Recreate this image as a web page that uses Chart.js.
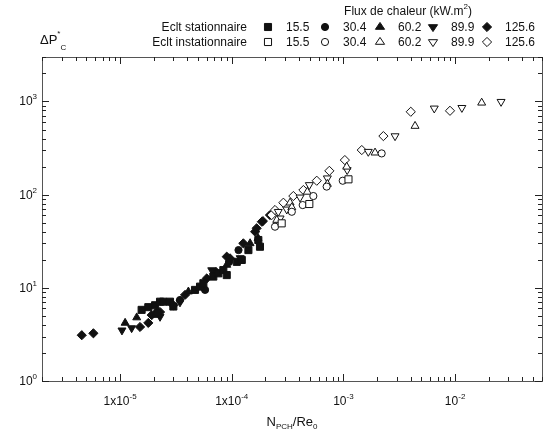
<!DOCTYPE html>
<html>
<head>
<meta charset="utf-8">
<script src="https://cdn.jsdelivr.net/npm/chart.js@4.4.0/dist/chart.umd.min.js"></script>
<style>
  html, body { margin: 0; padding: 0; background: #fff; }
  #wrap { position: relative; width: 554px; height: 434px; }
</style>
</head>
<body>
<div id="wrap"><canvas id="chart" width="554" height="434"></canvas></div>
<script>
// Heat flux classes (kW.m2)
const FLUX_LABELS = ['15.5', '30.4', '60.2', '89.9', '125.6'];
const ROW_LABELS = ['Eclt stationnaire', 'Eclt instationnaire'];

// Axis ticks
const X_TICKS = [1e-5, 1e-4, 1e-3, 1e-2];
const X_TICK_BASE = ['1x10', '1x10', '10', '10'];
const X_TICK_EXP = ['-5', '-4', '-3', '-2'];
const Y_TICKS = [1, 10, 100, 1000];
const Y_TICK_EXP = ['0', '1', '2', '3'];

// Steady flow (filled markers): [N_PCH/Re_0, dP*_C]
const STAT_15_5 = [[1.56e-5, 5.8], [1.79e-5, 6.2], [2.06e-5, 6.5], [2.28e-5, 7.1], [2.44e-5, 7.1],
  [2.8e-5, 7.1], [3.0e-5, 6.3], [4.69e-5, 9.5], [5.2e-5, 10.3], [5.57e-5, 11.2], [6.84e-5, 13.2],
  [7.59e-5, 14.3], [8.41e-5, 15.5], [9.02e-5, 13.7], [1.11e-4, 19.0], [1.23e-4, 19.9],
  [1.41e-4, 25.4], [1.73e-4, 32.6], [1.79e-4, 27.6]];
const STAT_30_4 = [[2.14e-5, 5.5], [3.44e-5, 7.4], [5.77e-5, 9.5], [9.46e-5, 18.9], [1.15e-4, 25.4]];
const STAT_60_2 = [[1.11e-5, 4.2], [1.41e-5, 4.8], [2.06e-5, 5.1], [4.09e-5, 9.1], [9.02e-5, 17.6],
  [1.46e-4, 30.0], [1.72e-4, 34.2]];
const STAT_89_9 = [[1.04e-5, 3.5], [1.27e-5, 3.7], [2.28e-5, 4.9], [3.44e-5, 7.0], [6.62e-5, 15.5],
  [1.19e-4, 20.9]];
const STAT_125_6 = [[4.54e-6, 3.1], [5.77e-6, 3.25], [1.51e-5, 3.8], [1.79e-5, 4.2], [1.92e-5, 5.1],
  [2.28e-5, 5.5], [3.0e-5, 6.5], [3.82e-5, 8.4], [5.97e-5, 12.6], [7.23e-5, 14.8], [9.02e-5, 21.6],
  [9.66e-5, 20.7], [1.27e-4, 30.0], [1.62e-4, 40.0], [1.67e-4, 43.5], [1.86e-4, 51.2],
  [1.90e-4, 52], [2.20e-4, 60.4]];

// Unsteady flow (open markers)
const UNST_15_5 = [[2.80e-4, 49.2], [4.95e-4, 79.3], [1.11e-3, 146]];
const UNST_30_4 = [[2.44e-4, 45.3], [3.45e-4, 65.5], [4.32e-4, 77.3], [5.38e-4, 96.6], [7.08e-4, 122],
  [9.86e-4, 141], [2.20e-3, 277]];
const UNST_60_2 = [[2.53e-4, 53.4], [3.33e-4, 81.9], [3.45e-4, 73], [4.75e-4, 107], [7.18e-4, 130],
  [1.07e-3, 199], [1.92e-3, 282], [4.38e-3, 545], [1.73e-2, 968]];
const UNST_89_9 = [[2.61e-4, 65.5], [2.71e-4, 55.7], [3.11e-4, 69.5], [4.09e-4, 93.5], [4.95e-4, 127],
  [7.18e-4, 150], [1.08e-3, 184], [1.67e-3, 289], [2.90e-3, 425], [6.51e-3, 843], [1.15e-2, 855],
  [2.58e-2, 993]];
const UNST_125_6 = [[2.28e-4, 60.4], [2.44e-4, 68.4], [2.90e-4, 81.9], [3.56e-4, 96.6], [4.38e-4, 112],
  [5.77e-4, 141], [7.48e-4, 180], [1.03e-3, 235], [1.46e-3, 301], [2.28e-3, 425], [4.01e-3, 775],
  [9.0e-3, 794]];

const FONT = '"Liberation Sans", Arial, sans-serif';
const INK = '#111';

// marker look per flux class
const MARKERS = [
  { style: 'rect', rotation: 0, radius: 5 },
  { style: 'circle', rotation: 0, radius: 3.6 },
  { style: 'triangle', rotation: 0, radius: 4.6 },
  { style: 'triangle', rotation: 180, radius: 4.6 },
  { style: 'rectRot', rotation: 0, radius: 4.6 }
];

function toPoints(arr) {
  return arr.map(([x, y]) => ({ x, y }));
}

function makeDataset(label, arr, i, filled) {
  const m = MARKERS[i];
  return {
    label: label,
    data: toPoints(arr),
    pointStyle: m.style,
    rotation: m.rotation,
    pointRadius: m.radius,
    borderWidth: 1,
    borderColor: INK,
    backgroundColor: filled ? INK : '#fff',
    showLine: false
  };
}

const steady = [STAT_15_5, STAT_30_4, STAT_60_2, STAT_89_9, STAT_125_6];
const unsteady = [UNST_15_5, UNST_30_4, UNST_60_2, UNST_89_9, UNST_125_6];

const datasets = [];
unsteady.forEach((arr, i) => datasets.push(makeDataset(ROW_LABELS[1] + ' ' + FLUX_LABELS[i], arr, i, false)));
steady.forEach((arr, i) => datasets.push(makeDataset(ROW_LABELS[0] + ' ' + FLUX_LABELS[i], arr, i, true)));

// text with a small raised (or lowered) part
function drawParts(ctx, parts, x, y, align) {
  let total = 0;
  parts.forEach(p => {
    ctx.font = p.size + 'px ' + FONT;
    p.w = ctx.measureText(p.text).width;
    total += p.w;
  });
  let cx = align === 'center' ? x - total / 2 : align === 'right' ? x - total : x;
  ctx.textAlign = 'left';
  ctx.textBaseline = 'alphabetic';
  parts.forEach(p => {
    ctx.font = p.size + 'px ' + FONT;
    ctx.fillText(p.text, cx, y + (p.dy || 0));
    cx += p.w;
  });
}

function drawMarker(ctx, i, filled, x, y) {
  const m = MARKERS[i];
  const r = m.radius;
  ctx.save();
  ctx.lineWidth = 1;
  ctx.strokeStyle = INK;
  ctx.fillStyle = filled ? INK : '#fff';
  ctx.beginPath();
  if (m.style === 'rect') {
    const s = r * Math.SQRT1_2;
    ctx.rect(x - s, y - s, 2 * s, 2 * s);
  } else if (m.style === 'circle') {
    ctx.arc(x, y, r, 0, Math.PI * 2);
  } else if (m.style === 'rectRot') {
    ctx.moveTo(x, y - r); ctx.lineTo(x + r, y); ctx.lineTo(x, y + r); ctx.lineTo(x - r, y);
    ctx.closePath();
  } else {
    const dir = m.rotation === 180 ? -1 : 1;
    const h = r * 1.5;
    const half = r * Math.sin(Math.PI / 3);
    ctx.moveTo(x, y - dir * (2 / 3) * h);
    ctx.lineTo(x + half * 1.15, y + dir * h / 3);
    ctx.lineTo(x - half * 1.15, y + dir * h / 3);
    ctx.closePath();
  }
  ctx.fill();
  ctx.stroke();
  ctx.restore();
}

function tickValues(min, max) {
  const out = [];
  for (let e = Math.floor(Math.log10(min)); e <= Math.ceil(Math.log10(max)); e++) {
    for (let m = 1; m <= 9; m++) {
      const v = m * Math.pow(10, e);
      if (v >= min * 0.999 && v <= max * 1.001) out.push({ v, major: m === 1 });
    }
  }
  return out;
}

const framePlugin = {
  id: 'frame',
  afterDraw(chart) {
    const { ctx, chartArea: a, scales: { x, y } } = chart;
    ctx.save();
    ctx.strokeStyle = '#555';
    ctx.lineWidth = 1;
    ctx.strokeRect(a.left + 0.5, a.top + 0.5, a.right - a.left, a.bottom - a.top);

    // inward ticks on all four sides
    ctx.strokeStyle = '#222';
    ctx.beginPath();
    tickValues(x.min, x.max).forEach(t => {
      const px = Math.round(x.getPixelForValue(t.v)) + 0.5;
      const len = t.major ? 7 : 4;
      ctx.moveTo(px, a.bottom); ctx.lineTo(px, a.bottom - len);
      ctx.moveTo(px, a.top); ctx.lineTo(px, a.top + len);
    });
    tickValues(y.min, y.max).forEach(t => {
      const py = Math.round(y.getPixelForValue(t.v)) + 0.5;
      const len = t.major ? 7 : 4;
      ctx.moveTo(a.left, py); ctx.lineTo(a.left + len, py);
      ctx.moveTo(a.right, py); ctx.lineTo(a.right - len, py);
    });
    ctx.stroke();

    ctx.fillStyle = INK;
    // x tick labels
    X_TICKS.forEach((v, i) => {
      const px = x.getPixelForValue(v);
      drawParts(ctx, [{ text: X_TICK_BASE[i], size: 12 }, { text: X_TICK_EXP[i], size: 8, dy: -6 }],
        px, a.bottom + 24, 'center');
    });
    // y tick labels
    Y_TICKS.forEach((v, i) => {
      const py = y.getPixelForValue(v);
      drawParts(ctx, [{ text: '10', size: 12 }, { text: Y_TICK_EXP[i], size: 8, dy: -6 }],
        a.left - 5, py + 4, 'right');
    });

    // axis titles
    drawParts(ctx, [{ text: 'N', size: 13 }, { text: 'PCH', size: 8, dy: 3 },
      { text: '/Re', size: 13 }, { text: '0', size: 8, dy: 3 }],
      (a.left + a.right) / 2, a.bottom + 45, 'center');
    drawParts(ctx, [{ text: '\u0394P', size: 13 }, { text: '*', size: 8, dy: -8 },
      { text: 'C', size: 8, dy: 6 }], a.left - 2, a.top - 13, 'left');

    // legend block
    drawParts(ctx, [{ text: 'Flux de chaleur (kW.m', size: 12 }, { text: '2', size: 8, dy: -6 },
      { text: ')', size: 12 }], 408, 15, 'center');
    const rowsY = [27, 42];
    const markerX = [268, 325, 380, 433, 487];
    rowsY.forEach((ry, r) => {
      drawParts(ctx, [{ text: ROW_LABELS[r], size: 12 }], 247, ry + 4, 'right');
      FLUX_LABELS.forEach((lab, i) => {
        drawMarker(ctx, i, r === 0, markerX[i], ry);
        drawParts(ctx, [{ text: lab, size: 12 }], markerX[i] + 18, ry + 4, 'left');
      });
    });
    ctx.restore();
  }
};

const chart = new Chart(document.getElementById('chart').getContext('2d'), {
  type: 'scatter',
  data: { datasets: datasets },
  options: {
    responsive: false,
    animation: false,
    devicePixelRatio: 1,
    clip: false,
    layout: { padding: { left: 42, right: 12, top: 57, bottom: 53 } },
    scales: {
      x: { type: 'logarithmic', min: 2e-6, max: 0.06, display: false },
      y: { type: 'logarithmic', min: 1, max: 3000, display: false }
    },
    plugins: {
      legend: { display: false },
      tooltip: { enabled: false }
    }
  },
  plugins: [framePlugin]
});
</script>
</body>
</html>
